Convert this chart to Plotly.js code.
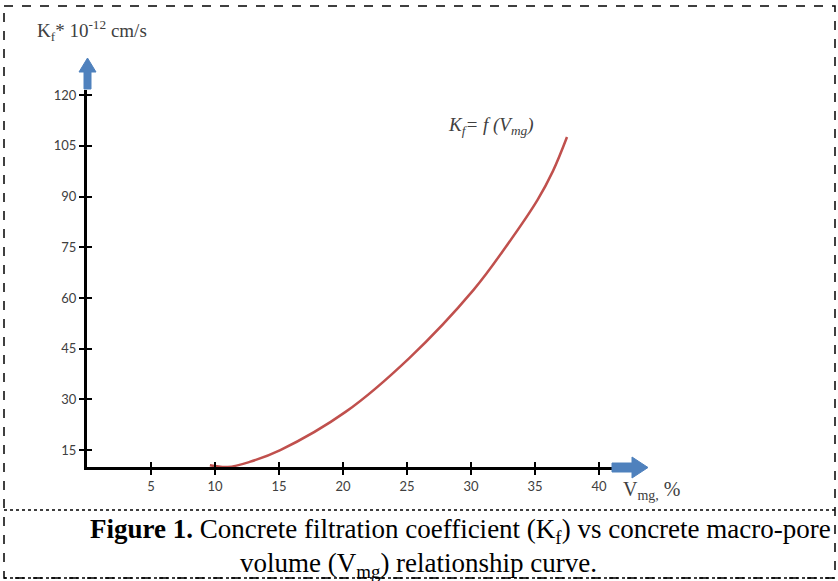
<!DOCTYPE html>
<html>
<head>
<meta charset="utf-8">
<script src="https://cdn.plot.ly/plotly-3.0.1.min.js"></script>
<style>html,body{margin:0;padding:0;background:#fff;}#chart{width:838px;height:581px;}</style>
</head>
<body>
<div id="chart"></div>
<script>
// Data
var vmg = [9.6, 11.0, 12.7, 15.1, 20.2, 25.2, 30.2, 32.7, 35.2, 36.4, 37.5];
var kf  = [10.5, 10.0, 11.5, 15.0, 26.3, 42.3, 62.4, 75.0, 89.0, 97.5, 107.6];
var xTicks = [5, 10, 15, 20, 25, 30, 35, 40];
var yTicks = [15, 30, 45, 60, 75, 90, 105, 120];

var W = 838, H = 581, L = 87, R = 615, T = 90, B = 467;
function PX(px){ return (px - L) / (R - L); }
function PY(py){ return (B - py) / (B - T); }

var xr = [0, 41.25], yr = [10, 121.5];
var blue = '#4f81bd';

var traces = [
  {x: vmg, y: kf, mode: 'lines', line: {color: '#c0504d', width: 2.5, shape: 'spline', smoothing: 1}, hoverinfo: 'skip', showlegend: false},
  {x: vmg, y: kf, xaxis: 'x2', yaxis: 'y2', mode: 'lines', line: {color: 'rgba(0,0,0,0)', width: 0}, hoverinfo: 'skip', showlegend: false}
];

function path(pts){
  return 'M' + pts.map(function(p){ return PX(p[0]) + ',' + PY(p[1]); }).join(' L') + ' Z';
}

var shapes = [
  {type: 'rect', xref: 'paper', yref: 'paper', x0: PX(4), x1: PX(835), y0: PY(6), y1: PY(578), line: {color: '#000', width: 1.5, dash: 'dash'}, layer: 'below'},
  {type: 'line', xref: 'paper', yref: 'paper', x0: PX(4), x1: PX(835), y0: PY(510), y1: PY(510), line: {color: '#000', width: 1.5, dash: 'dot'}},
  {type: 'line', xref: 'paper', yref: 'paper', x0: PX(4), x1: PX(835), y0: PY(578), y1: PY(578), line: {color: '#000', width: 1.5, dash: 'dot'}},
  {type: 'path', xref: 'paper', yref: 'paper', path: path([[84,89],[84,72],[79,72],[87.5,58],[96,72],[91,72],[91,89]]), fillcolor: blue, line: {color: blue, width: 1}},
  {type: 'path', xref: 'paper', yref: 'paper', path: path([[612,463],[632,463],[632,457],[648,467.5],[632,478],[632,472],[612,472]]), fillcolor: blue, line: {color: blue, width: 1}}
];

var serif = 'Liberation Serif, Times New Roman, serif';
var annotations = [
  {xref: 'paper', yref: 'paper', x: PX(35), y: PY(30), xanchor: 'left', yanchor: 'middle', showarrow: false,
   text: 'K<sub>f</sub>* 10<sup>-12</sup> cm/s', font: {family: serif, size: 19, color: '#404040'}},
  {xref: 'paper', yref: 'paper', x: PX(446), y: PY(126), xanchor: 'left', yanchor: 'middle', showarrow: false,
   text: '<i>K<sub>f</sub>= f (V<sub>mg</sub>)</i>', font: {family: serif, size: 19, color: '#404040'}},
  {xref: 'paper', yref: 'paper', x: PX(621), y: PY(490), xanchor: 'left', yanchor: 'middle', showarrow: false,
   text: 'V<sub>mg,</sub> %', font: {family: serif, size: 20, color: '#404040'}},
  {xref: 'paper', yref: 'paper', x: PX(460), y: PY(531), xanchor: 'center', yanchor: 'middle', showarrow: false,
   text: '<b>Figure 1.</b> Concrete filtration coefficient (K<sub>f</sub>) vs concrete macro-pore', font: {family: serif, size: 27, color: '#000'}},
  {xref: 'paper', yref: 'paper', x: PX(418), y: PY(565), xanchor: 'center', yanchor: 'middle', showarrow: false,
   text: 'volume (V<sub>mg</sub>) relationship curve.', font: {family: serif, size: 27, color: '#000'}}
];

var tickFont = {family: 'Lato, Open Sans, sans-serif', size: 13, color: '#404040'};
var layout = {
  width: W, height: H,
  margin: {l: L, r: W - R, t: T, b: H - B, pad: 0},
  paper_bgcolor: '#fff', plot_bgcolor: '#fff',
  xaxis: {range: xr, tickvals: xTicks, ticktext: xTicks.map(String), ticks: 'outside', ticklen: 5, tickwidth: 2, tickcolor: '#000',
          showline: true, linecolor: '#000', linewidth: 3, showgrid: false, zeroline: false, tickfont: tickFont, fixedrange: true},
  yaxis: {range: yr, tickvals: yTicks, ticktext: yTicks.map(String), ticks: 'outside', ticklen: 5, tickwidth: 2, tickcolor: '#000',
          showline: true, linecolor: '#000', linewidth: 3, showgrid: false, zeroline: false, tickfont: tickFont, fixedrange: true},
  xaxis2: {overlaying: 'x', range: xr, tickvals: xTicks, ticks: 'inside', ticklen: 5, tickwidth: 2, tickcolor: '#000',
           showticklabels: false, showline: false, showgrid: false, zeroline: false, fixedrange: true},
  yaxis2: {overlaying: 'y', range: yr, tickvals: yTicks, ticks: 'inside', ticklen: 5, tickwidth: 2, tickcolor: '#000',
           showticklabels: false, showline: false, showgrid: false, zeroline: false, fixedrange: true},
  shapes: shapes,
  annotations: annotations,
  showlegend: false
};

Plotly.newPlot('chart', traces, layout, {displayModeBar: false, staticPlot: true});
</script>
</body>
</html>
